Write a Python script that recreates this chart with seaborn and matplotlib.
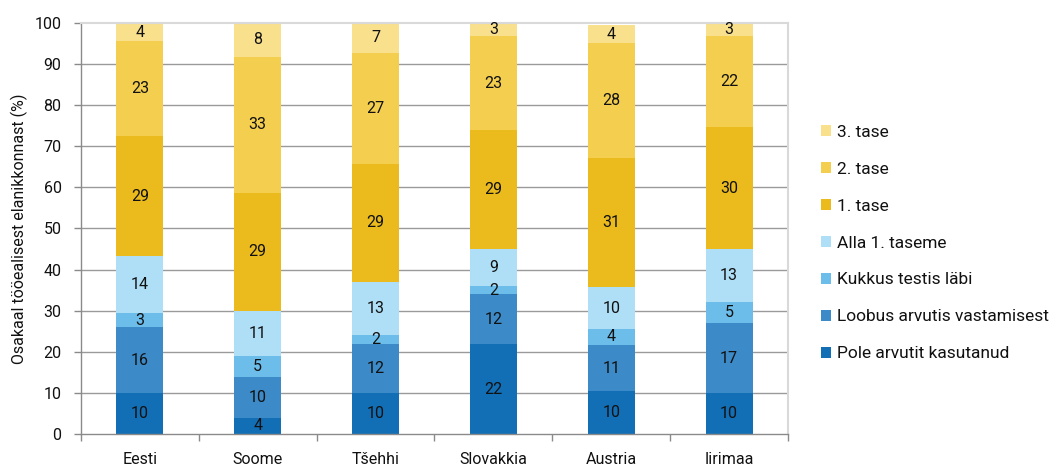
import numpy as np
import pandas as pd
import matplotlib
matplotlib.use("Agg")
import matplotlib.pyplot as plt
import seaborn as sns
from matplotlib.patches import Patch

countries = ["Eesti", "Soome", "Tšehhi", "Slovakkia", "Austria", "Iirimaa"]
series_names = ["Pole arvutit kasutanud", "Loobus arvutis vastamisest", "Kukkus testis läbi",
                "Alla 1. taseme", "1. tase", "2. tase", "3. tase"]
pole = [10.0, 4.0, 10.0, 21.8, 10.4, 10.0]
loobus = [16.0, 9.9, 11.8, 12.2, 11.3, 16.9]
kukkus = [3.4, 5.0, 2.2, 1.9, 3.9, 5.1]
alla1 = [13.8, 11.0, 13.1, 9.0, 10.1, 12.9]
tase1 = [29.2, 28.8, 28.7, 29.0, 31.4, 29.9]
tase2 = [23.2, 33.1, 27.0, 23.0, 28.0, 22.1]
tase3 = [4.4, 8.2, 7.2, 3.1, 4.4, 3.1]
colors = ["#126fb6", "#3d8ac8", "#6cbde9", "#aedff7", "#ebbb1e", "#f4cf4f", "#f8e08d"]

values = [pole, loobus, kukkus, alla1, tase1, tase2, tase3]

sns.set_theme(style="white")
plt.rcParams["font.family"] = ["Roboto", "DejaVu Sans"]

FS = 11.5

fig = plt.figure(figsize=(10.61, 4.66), dpi=100)
ax = fig.add_axes([81 / 1061, 32 / 466, (788 - 81) / 1061, (434 - 23) / 466])

bottom = np.zeros(len(countries))
for name, vals, col in zip(series_names, values, colors):
    df = pd.DataFrame({"country": countries, "value": vals})
    sns.barplot(data=df, x="country", y="value", order=countries, color=col,
                width=0.4, bottom=bottom.copy(), ax=ax, linewidth=0, saturation=1,
                errorbar=None)
    bottom = bottom + np.array(vals)

for cont in ax.containers:
    ax.bar_label(cont, labels=[f"{v:.0f}" for v in cont.datavalues],
                 label_type="center", fontsize=FS, color="#111111")

ax.set_ylim(0, 100)
ax.set_xlim(-0.5, len(countries) - 0.5)
ax.set_yticks(np.arange(0, 101, 10))
ax.tick_params(axis="y", labelsize=FS, length=5, color="#8a8a8a", width=1, pad=9,
               left=True, labelcolor="#111111")
ax.tick_params(axis="x", labelsize=FS, length=0, pad=13, labelcolor="#111111")
ax.set_xticks(np.arange(-0.5, len(countries), 1), minor=True)
ax.tick_params(axis="x", which="minor", length=5, color="#8a8a8a", width=1, bottom=True)
ax.set_xlabel("")
ax.set_ylabel("Osakaal tööealisest elanikkonnast (%)", fontsize=FS, labelpad=5,
              color="#111111")

for y in range(10, 100, 10):
    ax.axhline(y, color="#9a9a9a", linewidth=1, zorder=0)
ax.set_axisbelow(True)

for s in ["left", "bottom"]:
    ax.spines[s].set_color("#8a8a8a")
    ax.spines[s].set_linewidth(1)
for s in ["top", "right"]:
    ax.spines[s].set_color("#d9d9d9")
    ax.spines[s].set_linewidth(1.5)

handles = [Patch(facecolor=c, edgecolor="none", label=n) for n, c in zip(series_names, colors)][::-1]
fig.legend(handles=handles, loc="upper left", bbox_to_anchor=(821 / 1061, 1 - 125 / 466),
           frameon=False, fontsize=12.5, handlelength=0.6, handleheight=0.6,
           handletextpad=0.3, labelspacing=1.26, borderaxespad=0, borderpad=0,
           labelcolor="#111111")

fig.savefig("out.png", dpi=100)
